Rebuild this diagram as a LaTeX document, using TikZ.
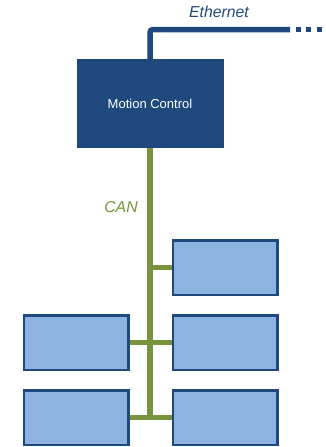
\documentclass[tikz,border=0pt]{standalone}
\usepackage{fontspec}
\setmainfont{Liberation Sans}
\usetikzlibrary{positioning}
\definecolor{ctrlblue}{RGB}{31,73,125}
\definecolor{drvblue}{RGB}{141,179,226}
\definecolor{cangreen}{RGB}{119,147,60}
\tikzset{
  ctrl/.style={rectangle, fill=ctrlblue, text=white, inner sep=0pt,
               font=\fontsize{13}{15}\selectfont, minimum width=147pt, minimum height=89pt},
  drv/.style={rectangle, draw=ctrlblue, line width=2.5pt, fill=drvblue,
              minimum width=104.5pt, minimum height=54.5pt},
  ethline/.style={ctrlblue, line width=5.5pt, rounded corners=3pt},
  canline/.style={cangreen, line width=5.5pt},
  buslbl/.style={font=\fontsize{15.8}{18}\selectfont\itshape, inner sep=0pt, anchor=base},
}

\begin{document}
\begin{tikzpicture}[x=1pt, y=-1pt, node distance=18pt and 42pt]
        \useasboundingbox (0,0) rectangle (325,447);
        \node[ctrl](mc) at (150,103.5){Motion Control};
        % drives on the CAN bus
        \node[drv](r1) at (225,267.5){};
        \node[drv, below=of r1](r2){};
        \node[drv, below=of r2](r3){};
        \node[drv, left=of r2](l2){};
        \node[drv, left=of r3](l3){};
        % ethernet uplink
        \coordinate (ethout) at (290,29.5);
        \coordinate (ethend) at (322.5,29.5);
        \draw[ethline](mc.north) |- (ethout);
        \draw[ethline, dash pattern=on 5pt off 5.5pt, dash phase=5pt](ethout) -- (ethend);
        \node[buslbl, text=ctrlblue](eth) at (219,17){Ethernet};
        % CAN bus and stubs
        \coordinate (busend) at (150,420);
        \draw[canline](mc.south) -- (busend);
        \draw[canline](mc.south |- r1.west) -- (r1.west);
        \draw[canline](l2.east) -- (r2.west);\draw[canline](l3.east) -- (r3.west);
        \node[buslbl, text=cangreen](can) at (121,212){CAN};
    \end{tikzpicture}
\end{document}
